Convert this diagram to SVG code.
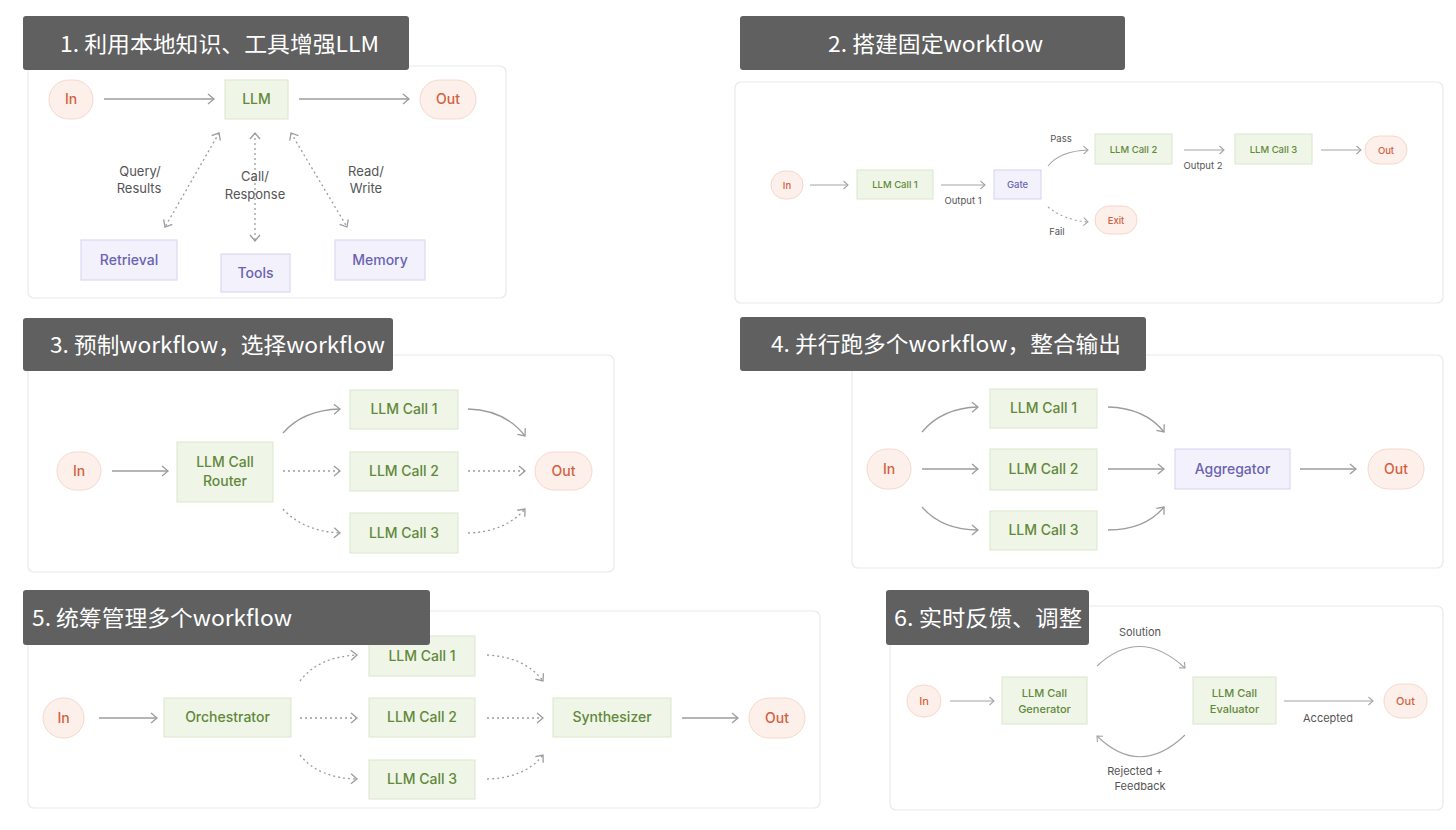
<svg xmlns="http://www.w3.org/2000/svg" width="1456" height="830" viewBox="0 0 1456 830">
<style>
.card{fill:#fff;stroke:#e9e9e9;stroke-width:1.2}
.title{fill:#606060}
.tt{fill:#fff;font-family:"Noto Sans CJK SC","Noto Sans",sans-serif;font-size:22px;font-weight:400}
.g{fill:#eff6e8;stroke:#d9e7cc;stroke-width:1}
.p{fill:#f3f2fc;stroke:#d5d2ef;stroke-width:1}
.o{fill:#fdf0eb;stroke:#f5d8cd;stroke-width:1}
.gt{fill:#62883a;font-family:Inter,"Liberation Sans",sans-serif;font-weight:500;text-anchor:middle}
.pt{fill:#6a63b3;font-family:Inter,"Liberation Sans",sans-serif;font-weight:500;text-anchor:middle}
.ot{fill:#d2603f;font-family:Inter,"Liberation Sans",sans-serif;font-weight:500;text-anchor:middle}
.lt{fill:#555;font-family:Inter,"Liberation Sans",sans-serif;text-anchor:middle}
.e{fill:none;stroke:#9c9c9c;stroke-width:1.3;marker-end:url(#ah)}
.d{stroke-dasharray:2 3}
.s{fill:none;stroke:#a4a4a4;stroke-width:1.1;marker-end:url(#ahs)}
.bi{marker-start:url(#ah)}
</style>
<defs>
<marker id="ah" markerWidth="10" markerHeight="12" refX="8" refY="6" orient="auto-start-reverse" markerUnits="userSpaceOnUse">
<path d="M2,1 L8,6 L2,11" fill="none" stroke="#9c9c9c" stroke-width="1.3"/>
</marker>
<marker id="ahs" markerWidth="8" markerHeight="10" refX="6" refY="5" orient="auto-start-reverse" markerUnits="userSpaceOnUse">
<path d="M1.5,1 L6,5 L1.5,9" fill="none" stroke="#a4a4a4" stroke-width="1.1"/>
</marker>
</defs>
<rect width="1456" height="830" fill="#fff"/>

<!-- cards -->
<rect class="card" x="28" y="66" width="478" height="232" rx="6"/>
<rect class="card" x="735" y="82" width="708" height="221" rx="6"/>
<rect class="card" x="28" y="355" width="586" height="217" rx="6"/>
<rect class="card" x="852" y="355" width="591" height="213" rx="6"/>
<rect class="card" x="28" y="611" width="792" height="197" rx="6"/>
<rect class="card" x="890" y="606" width="553" height="204" rx="6"/>

<g id="connectors">
<!-- panel 1 -->
<path class="e" d="M104,99 H214"/>
<path class="e" d="M299,99 H409"/>
<path class="e d bi" d="M219,133 L165,227"/>
<path class="e d bi" d="M255,133 V241"/>
<path class="e d bi" d="M291,133 L347,227"/>
<!-- panel 2 -->
<path class="s" d="M810,185 H848"/>
<path class="s" d="M941,185 H985"/>
<path class="s" d="M1048,166 Q1060,151 1088,150"/>
<path class="s d" d="M1048,207 Q1064,220 1088,222"/>
<path class="s" d="M1184,150 H1224"/>
<path class="s" d="M1321,150 H1361"/>
<!-- panel 3 -->
<path class="e" d="M112,471 H168"/>
<path class="e" d="M283,433 Q303,410 340,409"/>
<path class="e d" d="M283,471 H340"/>
<path class="e d" d="M283,509 Q303,531 340,533"/>
<path class="e" d="M468,409 Q505,410 525,436"/>
<path class="e d" d="M468,471 H525"/>
<path class="e d" d="M468,533 Q505,532 525,509"/>
<!-- panel 4 -->
<path class="e" d="M922,432 Q942,408 978,407"/>
<path class="e" d="M922,469 H978"/>
<path class="e" d="M922,507 Q942,530 978,530"/>
<path class="e" d="M1108,407 Q1145,408 1164,432"/>
<path class="e" d="M1108,469 H1164"/>
<path class="e" d="M1108,530 Q1145,530 1164,507"/>
<path class="e" d="M1300,469 H1356"/>
<!-- panel 5 -->
<path class="e" d="M99,718 H157"/>
<path class="e d" d="M300,681 Q318,657 357,655"/>
<path class="e d" d="M300,718 H357"/>
<path class="e d" d="M300,755 Q318,778 357,779"/>
<path class="e d" d="M487,655 Q525,657 543,681"/>
<path class="e d" d="M487,718 H543"/>
<path class="e d" d="M487,779 Q525,778 543,755"/>
<path class="e" d="M682,718 H738"/>
<!-- panel 6 -->
<path class="s" d="M950,701 H994"/>
<path class="s" d="M1097,666 Q1140,626 1185,668"/>
<path class="s" d="M1185,735 Q1140,778 1097,736"/>
<path class="s" d="M1284,701 H1373"/>
</g>

<g id="edge-labels">
<text class="lt" font-size="13"><tspan x="140" y="176">Query/</tspan><tspan x="139" y="193">Results</tspan></text>
<text class="lt" font-size="13"><tspan x="255" y="181">Call/</tspan><tspan x="255" y="199">Response</tspan></text>
<text class="lt" font-size="13"><tspan x="366" y="176">Read/</tspan><tspan x="366" y="193">Write</tspan></text>
<text class="lt" font-size="9.5" x="963" y="204">Output 1</text>
<text class="lt" font-size="9.5" x="1061" y="142">Pass</text>
<text class="lt" font-size="9.5" x="1057" y="235">Fail</text>
<text class="lt" font-size="9.5" x="1203" y="169">Output 2</text>
<text class="lt" font-size="11" x="1140" y="636">Solution</text>
<text class="lt" font-size="11"><tspan x="1135" y="775">Rejected +</tspan><tspan x="1140" y="790">Feedback</tspan></text>
<text class="lt" font-size="11" x="1328" y="722">Accepted</text>
</g>

<!-- panel 1 nodes -->
<g id="p1-in"><rect class="o" x="49" y="80" width="44" height="39" rx="19.5"/><text class="ot" font-size="14" x="71" y="104">In</text></g>
<g id="p1-llm"><rect class="g" x="225" y="80" width="63" height="39"/><text class="gt" font-size="14" x="256.5" y="104">LLM</text></g>
<g id="p1-out"><rect class="o" x="420" y="80" width="56" height="39" rx="19.5"/><text class="ot" font-size="14" x="448" y="104">Out</text></g>
<g id="p1-retrieval"><rect class="p" x="81" y="240" width="96" height="40"/><text class="pt" font-size="14" x="129" y="265">Retrieval</text></g>
<g id="p1-tools"><rect class="p" x="221" y="254" width="69" height="38"/><text class="pt" font-size="14" x="255.5" y="278">Tools</text></g>
<g id="p1-memory"><rect class="p" x="335" y="240" width="90" height="40"/><text class="pt" font-size="14" x="380" y="265">Memory</text></g>

<!-- panel 2 nodes -->
<g id="p2-in"><rect class="o" x="771" y="171" width="32" height="28" rx="14"/><text class="ot" font-size="9.5" x="787" y="188.5">In</text></g>
<g id="p2-call1"><rect class="g" x="857" y="170" width="76" height="29"/><text class="gt" font-size="9.5" x="895" y="188">LLM Call 1</text></g>
<g id="p2-gate"><rect class="p" x="994" y="170" width="47" height="29"/><text class="pt" font-size="9.5" x="1017.5" y="188">Gate</text></g>
<g id="p2-call2"><rect class="g" x="1095" y="134" width="77" height="30"/><text class="gt" font-size="9.5" x="1133.5" y="152.5">LLM Call 2</text></g>
<g id="p2-call3"><rect class="g" x="1235" y="134" width="77" height="30"/><text class="gt" font-size="9.5" x="1273.5" y="152.5">LLM Call 3</text></g>
<g id="p2-out"><rect class="o" x="1365" y="136" width="42" height="28" rx="14"/><text class="ot" font-size="9.5" x="1386" y="153.5">Out</text></g>
<g id="p2-exit"><rect class="o" x="1095" y="206" width="42" height="28" rx="14"/><text class="ot" font-size="9.5" x="1116" y="223.5">Exit</text></g>

<!-- panel 3 nodes -->
<g id="p3-in"><rect class="o" x="57" y="452" width="44" height="38" rx="19"/><text class="ot" font-size="14" x="79" y="476">In</text></g>
<g id="p3-router"><rect class="g" x="177" y="442" width="96" height="60"/><text class="gt" font-size="14"><tspan x="225" y="467">LLM Call</tspan><tspan x="225" y="486">Router</tspan></text></g>
<g id="p3-call1"><rect class="g" x="350" y="390" width="108" height="39"/><text class="gt" font-size="14" x="404" y="414">LLM Call 1</text></g>
<g id="p3-call2"><rect class="g" x="350" y="452" width="108" height="39"/><text class="gt" font-size="14" x="404" y="476">LLM Call 2</text></g>
<g id="p3-call3"><rect class="g" x="350" y="513" width="108" height="40"/><text class="gt" font-size="14" x="404" y="538">LLM Call 3</text></g>
<g id="p3-out"><rect class="o" x="535" y="452" width="57" height="38" rx="19"/><text class="ot" font-size="14" x="563.5" y="476">Out</text></g>

<!-- panel 4 nodes -->
<g id="p4-in"><rect class="o" x="867" y="449" width="44" height="40" rx="20"/><text class="ot" font-size="14" x="889" y="474">In</text></g>
<g id="p4-call1"><rect class="g" x="990" y="389" width="107" height="39"/><text class="gt" font-size="14" x="1043.5" y="413">LLM Call 1</text></g>
<g id="p4-call2"><rect class="g" x="990" y="449" width="107" height="41"/><text class="gt" font-size="14" x="1043.5" y="474">LLM Call 2</text></g>
<g id="p4-call3"><rect class="g" x="990" y="511" width="107" height="39"/><text class="gt" font-size="14" x="1043.5" y="535">LLM Call 3</text></g>
<g id="p4-agg"><rect class="p" x="1175" y="449" width="115" height="40"/><text class="pt" font-size="14" x="1232.5" y="474">Aggregator</text></g>
<g id="p4-out"><rect class="o" x="1368" y="449" width="56" height="40" rx="20"/><text class="ot" font-size="14" x="1396" y="474">Out</text></g>

<!-- panel 5 nodes -->
<g id="p5-in"><rect class="o" x="43" y="698" width="41" height="40" rx="20"/><text class="ot" font-size="14" x="63.5" y="723">In</text></g>
<g id="p5-orch"><rect class="g" x="164" y="698" width="127" height="39"/><text class="gt" font-size="14" x="227.5" y="722">Orchestrator</text></g>
<g id="p5-call1"><rect class="g" x="369" y="636" width="106" height="40"/><text class="gt" font-size="14" x="422" y="661">LLM Call 1</text></g>
<g id="p5-call2"><rect class="g" x="369" y="698" width="106" height="39"/><text class="gt" font-size="14" x="422" y="722">LLM Call 2</text></g>
<g id="p5-call3"><rect class="g" x="369" y="760" width="106" height="39"/><text class="gt" font-size="14" x="422" y="784">LLM Call 3</text></g>
<g id="p5-synth"><rect class="g" x="553" y="698" width="118" height="39"/><text class="gt" font-size="14" x="612" y="722">Synthesizer</text></g>
<g id="p5-out"><rect class="o" x="749" y="698" width="56" height="40" rx="20"/><text class="ot" font-size="14" x="777" y="723">Out</text></g>

<!-- panel 6 nodes -->
<g id="p6-in"><rect class="o" x="907" y="685" width="34" height="32" rx="16"/><text class="ot" font-size="11" x="924" y="705">In</text></g>
<g id="p6-gen"><rect class="g" x="1002" y="677" width="85" height="47"/><text class="gt" font-size="11"><tspan x="1044.5" y="697">LLM Call</tspan><tspan x="1044.5" y="713">Generator</tspan></text></g>
<g id="p6-eval"><rect class="g" x="1193" y="677" width="83" height="47"/><text class="gt" font-size="11"><tspan x="1234.5" y="697">LLM Call</tspan><tspan x="1234.5" y="713">Evaluator</tspan></text></g>
<g id="p6-out"><rect class="o" x="1384" y="684" width="43" height="34" rx="17"/><text class="ot" font-size="11" x="1405.5" y="705">Out</text></g>

<!-- title bars -->
<g id="title1"><rect class="title" x="23" y="16" width="386" height="54" rx="3"/><text class="tt" x="60" y="52" textLength="319" lengthAdjust="spacingAndGlyphs">1. 利用本地知识、工具增强LLM</text></g>
<g id="title2"><rect class="title" x="740" y="16" width="385" height="54" rx="3"/><text class="tt" x="828" y="52" textLength="215" lengthAdjust="spacingAndGlyphs">2. 搭建固定workflow</text></g>
<g id="title3"><rect class="title" x="23" y="318" width="370" height="53" rx="3"/><text class="tt" x="50" y="353" textLength="335" lengthAdjust="spacingAndGlyphs">3. 预制workflow，选择workflow</text></g>
<g id="title4"><rect class="title" x="740" y="317" width="406" height="54" rx="3"/><text class="tt" x="771" y="352" textLength="350" lengthAdjust="spacingAndGlyphs">4. 并行跑多个workflow，整合输出</text></g>
<g id="title5"><rect class="title" x="23" y="590" width="407" height="55" rx="3"/><text class="tt" x="32" y="626" textLength="260" lengthAdjust="spacingAndGlyphs">5. 统筹管理多个workflow</text></g>
<g id="title6"><rect class="title" x="886" y="590" width="203" height="55" rx="3"/><text class="tt" x="894" y="626" textLength="188" lengthAdjust="spacingAndGlyphs">6. 实时反馈、调整</text></g>
</svg>
